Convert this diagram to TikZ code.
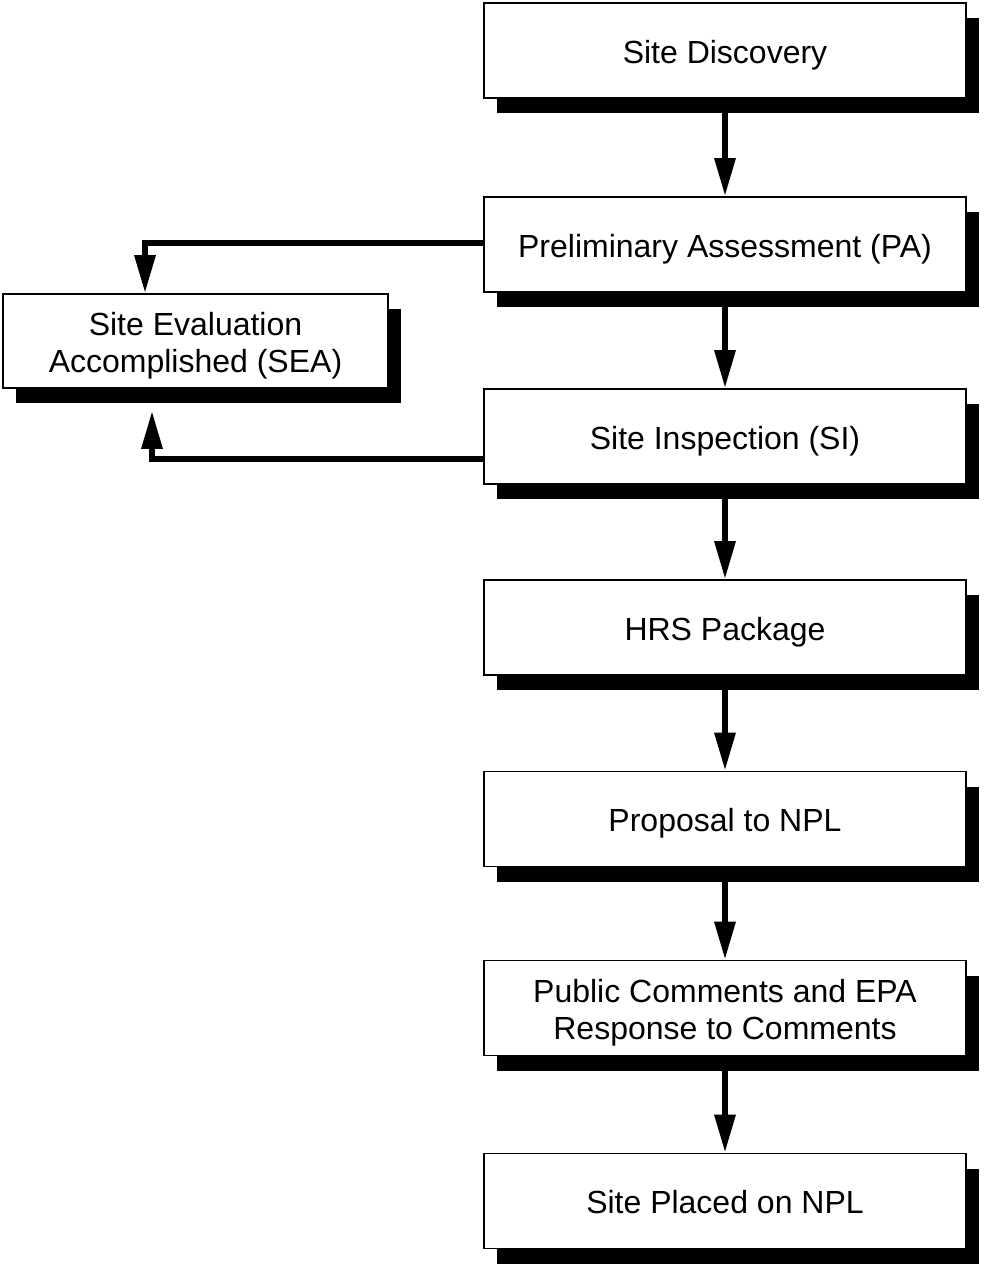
\documentclass[tikz,border=0pt]{standalone}
\usepackage{fontspec}
\setmainfont{Liberation Sans}
\usetikzlibrary{arrows.meta,shadows}
\begin{document}
\begin{tikzpicture}[x=1pt,y=1pt,
  stepbox/.style={draw=black, line width=1.6pt, fill=white, minimum width=482pt, minimum height=95pt,
    inner sep=0pt, align=center, font=\fontsize{32}{37}\selectfont, text height=25pt, text depth=0pt,
    general shadow={shadow xshift=13pt, shadow yshift=-15pt, fill=black}},
  twoline/.style={text height=62pt, text depth=0pt},
  sidebox/.style={stepbox, twoline, minimum width=385pt, minimum height=94pt},
  conn/.style={line width=6pt, -{Triangle[length=38pt,width=20pt]}}]
\useasboundingbox (0,0) rectangle (984,-1264);
\node[stepbox] (sd)  at (725,-50.5)  {Site Discovery};
\node[stepbox] (pa)  at (725,-244.5) {Preliminary Assessment (PA)};
\node[stepbox] (si)  at (725,-436.5) {Site Inspection (SI)};
\node[stepbox] (hrs) at (725,-627.5) {HRS Package};
\node[stepbox] (prop) at (725,-819) {Proposal to NPL};
\node[stepbox,twoline] (pub) at (725,-1008) {Public Comments and EPA\\Response to Comments};
\node[stepbox] (spn) at (725,-1201) {Site Placed on NPL};
\node[sidebox] (sea) at (195.5,-341) {Site Evaluation\\Accomplished (SEA)};
\draw[conn] (sd.south) -- (pa.north);
\draw[conn] (pa.south) -- (si.north);
\draw[conn] (si.south) -- (hrs.north);
\draw[conn] (hrs.south) -- (prop.north);
\draw[conn] (prop.south) -- (pub.north);
\draw[conn] (pub.south) -- (spn.north);
\draw[conn] ([yshift=1.5pt]pa.west) -| ([xshift=-50.5pt]sea.north);
\draw[conn] ([yshift=-22.5pt]si.west) -| ([xshift=-43.5pt,yshift=-22pt]sea.south);
\end{tikzpicture}
\end{document}
